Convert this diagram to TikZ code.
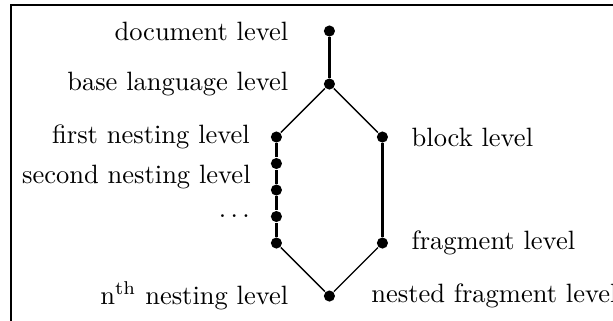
\documentclass[tikz,border=0pt]{standalone}
\usetikzlibrary{positioning}

\begin{document}
\begin{tikzpicture}[
            on grid, % centre to centre placement
            node distance = 20pt, % distance between levels
            semithick % line style
        ]

        \tikzstyle{level}=[
            circle,
            fill = black,
            inner sep = 0pt,
            minimum size = 4.2pt
        ]
        \tikzstyle{stem}=[line width = 1.2pt]
        \tikzstyle{branch}=[line width = 0.5pt]

	% page and frame
	\path[use as bounding box, clip] (-124.3pt,11.7pt) rectangle (107pt,-109.4pt);
	\draw[line width = 0.8pt] (-120.2pt,-120pt) |- (120pt,9.8pt);

	\node[level] (doc) at (0,0) [label={[label distance=9.5pt]left:document level}] {};
	\node[level] (base) [below=of doc, label={[label distance=9.5pt]left:base language level}] {};
	\node[level] (first) [below left=20pt and 20pt of base, label={[label distance=4pt]left:first nesting level}] {};
	\node[level] (block) [below right=20pt and 20pt of base, label={[label distance=5pt]right:block level}] {};
	\node[level] (second) [below=10pt of first] {};
	\node[level] (third) [below=10pt of second] {};
	\node[level] (fourth) [below=10pt of third, label={[label distance=4pt]left:$\ldots$}] {};
	\node[level] (last) [below=10pt of fourth] {};
	\node[level] (fragment) [below=40pt of block, label={[label distance=5pt]right:fragment level}] {};
	\node[level] (nth) [below right=20pt and 20pt of last,
	    label={[label distance=9.5pt]left:n\textsuperscript{th} nesting level},
	    label={[label distance=9.8pt]right:nested fragment level}] {};
	\node[anchor=east] (secondtext) at ([xshift=-6.1pt, yshift=-5pt]second) {second nesting level};

	\draw[stem] (doc) -- (base);
	\draw[branch] (base) -- (first);
	\draw[branch] (base) -- (block);
	\draw[stem] (first) -- (second) -- (third) -- (fourth) -- (last);
	\draw[stem] (block) -- (fragment);
	\draw[branch] (last) -- (nth);
	\draw[branch] (fragment) -- (nth);

\end{tikzpicture}
\end{document}
